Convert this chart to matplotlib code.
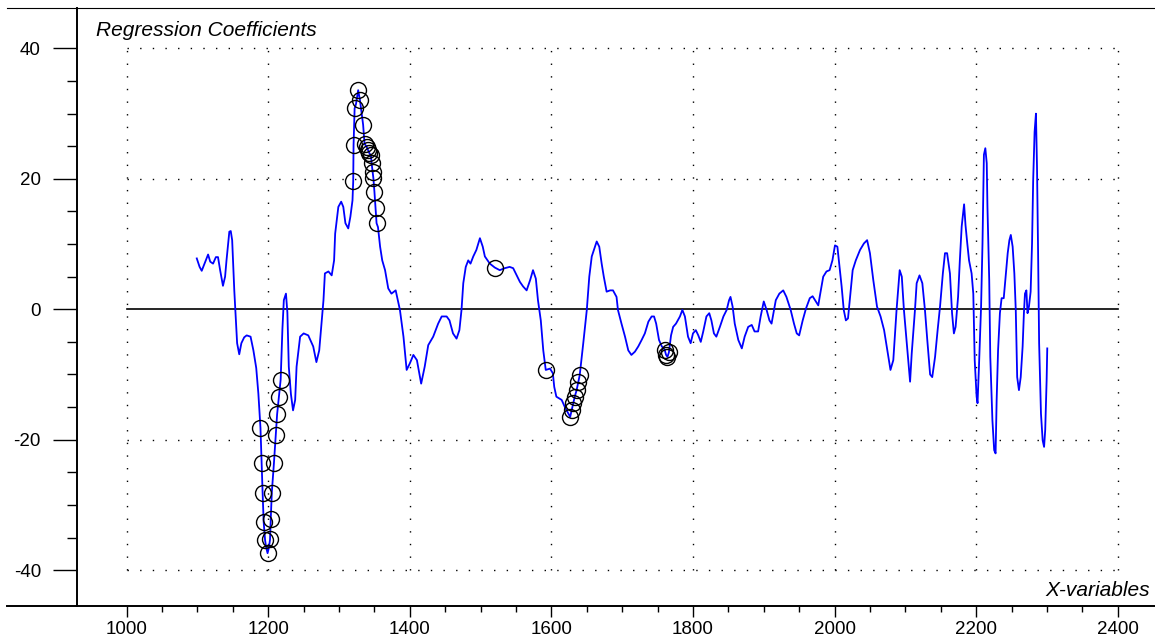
import numpy as np
import matplotlib
matplotlib.use("Agg")
import matplotlib.pyplot as plt
from matplotlib.lines import Line2D
from matplotlib.ticker import FixedLocator

plt.rcParams['font.family'] = ['Liberation Sans', 'DejaVu Sans']

# Regression coefficient spectrum (x-variable, coefficient)
wavelength = [
    1099, 1103, 1106, 1110, 1115, 1118, 1122, 1126, 1129, 1132, 1136, 1139, 1141, 1145, 1147, 1149,
    1152, 1154, 1156, 1159, 1162, 1166, 1169.5, 1175, 1179, 1183, 1186, 1188, 1189, 1190, 1190.5,
    1192, 1193.5, 1195.5, 1197, 1199, 1201, 1202.5, 1203.5, 1205, 1208, 1210.5, 1212.5, 1215,
    1217.5, 1218.5, 1220, 1222, 1225, 1227, 1229, 1232, 1235, 1238, 1240, 1245, 1250, 1256.5,
    1263.5, 1268, 1272, 1275.5, 1278, 1280, 1285, 1289.6, 1293, 1294.5, 1299, 1303, 1306, 1309,
    1313, 1316, 1319, 1320, 1320.5, 1322, 1324, 1327, 1329.5, 1334, 1336, 1339, 1341, 1343, 1345,
    1346, 1347.5, 1348.5, 1350, 1351.5, 1353, 1355, 1358, 1361, 1365, 1369.5, 1374, 1380, 1383,
    1386, 1391, 1395.5, 1400, 1405, 1410, 1416, 1421, 1426, 1433, 1440, 1445, 1452, 1456, 1461,
    1466, 1470, 1473, 1475.5, 1479, 1482.5, 1485.7, 1489.6, 1494, 1499, 1503, 1506, 1513, 1520,
    1527, 1534, 1541, 1546, 1551, 1555.5, 1560, 1565, 1570, 1574, 1578, 1581, 1585, 1588.5, 1592,
    1598, 1602, 1604, 1607, 1614.5, 1619, 1624, 1626.5, 1628.6, 1631, 1633, 1635.6, 1638, 1640,
    1645, 1650, 1653.5, 1657, 1664, 1667.6, 1671, 1674, 1678, 1683, 1687, 1692, 1694, 1699, 1704,
    1708.6, 1713, 1718, 1722.7, 1727.5, 1732, 1737, 1741.6, 1745, 1748, 1752, 1756, 1760, 1762,
    1764, 1766, 1769, 1772, 1776, 1781.6, 1785, 1788.6, 1793, 1796.7, 1800, 1804, 1807.5, 1811,
    1814.5, 1819, 1823, 1826, 1829.6, 1833, 1838, 1843, 1847.6, 1851, 1853, 1856, 1859, 1864,
    1869, 1873, 1878, 1883, 1887, 1892, 1895.6, 1900, 1904, 1908, 1911, 1917, 1922, 1927.5, 1932,
    1938, 1942.7, 1946.6, 1950, 1955, 1959.6, 1965, 1969, 1973.6, 1977, 1979, 1984, 1988.6, 1993,
    1997, 2000.6, 2004, 2006.6, 2010, 2013, 2016, 2019, 2022, 2025.6, 2030, 2036, 2041.5, 2046,
    2050, 2054.7, 2060, 2065, 2070, 2074.5, 2079, 2083, 2087.6, 2092, 2095, 2098, 2102, 2106.7,
    2109, 2113.6, 2116, 2120, 2124, 2127.7, 2131, 2135, 2138, 2142, 2145.6, 2149, 2153, 2156,
    2159, 2163, 2166, 2168.6, 2171, 2174.5, 2177, 2179.6, 2183, 2185, 2187.5, 2190, 2193.6, 2196,
    2198, 2200.7, 2202, 2204, 2207, 2209, 2211, 2213, 2215, 2216, 2218.5, 2220, 2223, 2225.5,
    2227.5, 2229, 2231, 2233.6, 2236, 2239, 2242, 2244.6, 2247, 2249, 2251.6, 2254, 2256, 2258,
    2260.5, 2263, 2265.7, 2267.5, 2269, 2271, 2272.6, 2274.6, 2277, 2279, 2280.6, 2282.6, 2284.5,
    2286, 2287.5, 2289, 2291.6, 2294, 2296, 2297.6, 2299.6, 2300.5,
]
coefficient = [
    7.8, 6.5, 5.9, 7.0, 8.4, 7.3, 7.0, 8.0, 8.0, 6.0, 3.6, 5.0, 7.5, 11.9, 12.0, 10.6,
    2.9, -1.0, -5.2, -6.9, -5.2, -4.3, -4.0, -4.2, -6.3, -9.0, -12.9, -16.5, -18.2, -21.6, -23.5,
    -28.1, -32.6, -35.4, -36.5, -37.4, -36.5, -35.3, -32.2, -28.1, -23.6, -19.3, -16.1, -13.4,
    -10.8, -7.5, -3.0, 1.4, 2.4, -0.5, -8.8, -13.0, -15.5, -13.9, -8.8, -4.2, -3.7, -4.0,
    -5.7, -8.1, -6.3, -1.7, 1.4, 5.5, 5.8, 5.2, 7.5, 11.6, 15.7, 16.5, 15.7, 13.2,
    12.4, 14.2, 16.7, 19.6, 25.2, 30.8, 31.5, 33.6, 32.1, 28.3, 25.4, 24.9, 24.4, 23.9, 23.6,
    22.4, 21.1, 20.1, 18.0, 15.5, 13.2, 12.6, 9.6, 7.5, 6.0, 3.2, 2.4, 2.9, 1.4,
    -0.1, -4.2, -9.3, -8.3, -7.0, -7.8, -11.4, -8.8, -5.5, -4.2, -2.2, -1.1, -1.1, -1.7, -3.7,
    -4.5, -3.2, -0.1, 4.0, 6.5, 7.5, 7.0, 8.1, 9.1, 10.9, 9.6, 8.1, 7.0, 6.4,
    6.0, 6.3, 6.5, 6.3, 5.2, 4.2, 3.5, 2.9, 4.5, 6.0, 4.7, 1.4, -1.7, -6.3, -9.3,
    -9.1, -9.8, -11.9, -13.4, -13.9, -15.0, -16.0, -16.5, -15.5, -14.4, -13.4, -12.4, -11.1, -10.1,
    -5.2, -0.1, 5.0, 8.1, 10.4, 9.6, 7.0, 5.0, 2.7, 2.9, 2.9, 1.9, -0.1, -2.2, -4.2,
    -6.3, -7.0, -6.5, -5.7, -4.7, -3.7, -1.9, -1.1, -1.1, -2.2, -4.7, -5.7, -6.2, -7.0,
    -7.3, -6.6, -4.0, -2.7, -2.2, -1.1, -0.1, -1.1, -4.2, -5.2, -3.7, -3.2, -4.0, -5.0,
    -3.4, -1.1, -0.6, -1.7, -3.7, -4.2, -2.7, -1.1, -0.1, 1.4, 1.9, 0.4, -2.2, -4.7,
    -6.0, -4.2, -2.7, -2.4, -3.4, -3.4, -1.1, 1.2, -0.1, -1.7, -2.2, 1.4, 2.4, 2.9, 1.9,
    -0.1, -2.2, -3.7, -4.0, -1.7, 0.1, 1.7, 2.0, 1.2, 0.6, 1.9, 5.0, 5.8, 6.0,
    7.5, 9.8, 9.6, 7.0, 3.5, -0.1, -1.7, -1.4, 1.9, 6.0, 7.5, 9.1, 10.1, 10.6,
    8.6, 4.5, 0.4, -1.1, -3.2, -6.3, -9.3, -7.8, -0.1, 6.0, 5.0, -0.1, -5.2, -11.1,
    -6.8, -0.1, 4.0, 5.2, 4.0, -0.1, -4.7, -10.0, -10.4, -7.3, -3.2, 0.4, 5.5, 8.6,
    8.6, 5.5, -0.6, -3.7, -2.7, 1.9, 7.5, 12.7, 16.1, 12.9, 10.1, 7.5, 5.5, 2.4,
    -7.8, -13.4, -14.4, -8.8, 0.4, 10.1, 23.7, 24.7, 22.4, 15.7, 4.5, -7.3, -17.0, -21.6,
    -22.1, -13.9, -6.3, -0.6, 1.7, 1.7, 5.5, 8.6, 10.6, 11.4, 9.6, 5.5, -0.1, -10.4,
    -12.4, -10.4, -5.7, -0.6, 2.4, 2.9, -0.6, 0.4, 2.7, 10.1, 19.8, 27.2, 30.0,
    21.9, 9.1, -5.2, -16.0, -20.1, -21.1, -18.5, -10.9, -6.0,
]

# Variables picked by the selection procedure
selected = [
    1189, 1190.5, 1192, 1193.5, 1195.5, 1199, 1202.5, 1203.5, 1205, 1208, 1210.5, 1212.5, 1215,
    1217.5, 1320, 1320.5, 1322, 1327, 1329.5, 1334, 1336, 1339, 1341, 1343, 1345, 1346, 1347.5,
    1348.5, 1350, 1351.5, 1353, 1520, 1592, 1626.5, 1628.6, 1631, 1633, 1635.6, 1638, 1640,
    1760, 1762, 1764, 1766,
]

x_major = [1000, 1200, 1400, 1600, 1800, 2000, 2200, 2400]
y_major = [-40, -20, 0, 20, 40]
y_grid = [-40, -20, 20, 40]

wl = np.array(wavelength)
cf = np.array(coefficient)
idx = [int(np.argmin(np.abs(wl - s))) for s in selected]

W, H = 1155, 644
fig = plt.figure(figsize=(W / 100, H / 100), dpi=100)
left, right, top, bottom = 77, 1155, 8, 606
ax = fig.add_axes([left / W, 1 - bottom / H, (right - left) / W, (bottom - top) / H])

ax.set_xlim(929.8, 2452.7)
ax.set_ylim(-45.5, 46.2)

# dotted grid confined to the data box
dots = dict(color='black', lw=1.0, linestyle=(0, (1.0, 8.1)), zorder=1)
for gx in x_major:
    ax.plot([gx, gx], [-40, 40], **dots)
for gy in y_grid:
    ax.plot([1000, 2400], [gy, gy], **dots)
ax.plot([1000, 2400], [0, 0], color='black', lw=1.2, zorder=2)

ax.plot(wl, cf, color='#0000ff', lw=1.3, zorder=3)
ax.plot(wl[idx], cf[idx], linestyle='none', marker='o', markersize=11.5,
        markerfacecolor='none', markeredgecolor='black', markeredgewidth=1.0, zorder=4)

ax.spines['right'].set_visible(False)
ax.spines['left'].set_linewidth(1.4)
ax.spines['bottom'].set_linewidth(1.4)
ax.spines['top'].set_linewidth(0.8)

ax.xaxis.set_major_locator(FixedLocator(x_major))
ax.xaxis.set_minor_locator(FixedLocator(np.arange(1050, 2400, 50)))
ax.yaxis.set_major_locator(FixedLocator(y_major))
ax.yaxis.set_minor_locator(FixedLocator(np.arange(-35, 40, 5)))
ax.tick_params(axis='x', which='major', length=8, width=1.0, pad=3, labelsize=13.5)
ax.tick_params(axis='x', which='minor', length=4.3, width=1.0)
ax.tick_params(axis='y', which='major', length=17, width=1.0, pad=9, labelsize=13.5)
ax.tick_params(axis='y', which='minor', length=7, width=1.0)
ax.set_yticklabels([str(v) for v in y_major])

# frame lines continuing left of the y axis
for yy, lw in ((top, 0.8), (bottom, 1.4)):
    fig.add_artist(Line2D([7 / W, left / W], [1 - yy / H, 1 - yy / H], color='black', lw=lw))

fig.text(96 / W, 1 - 30 / H, 'Regression Coefficients', fontsize=15, style='italic',
         ha='left', va='center')
fig.text(1150 / W, 1 - 590 / H, 'X-variables', fontsize=15, style='italic',
         ha='right', va='center')

fig.savefig('out.png', dpi=100)
